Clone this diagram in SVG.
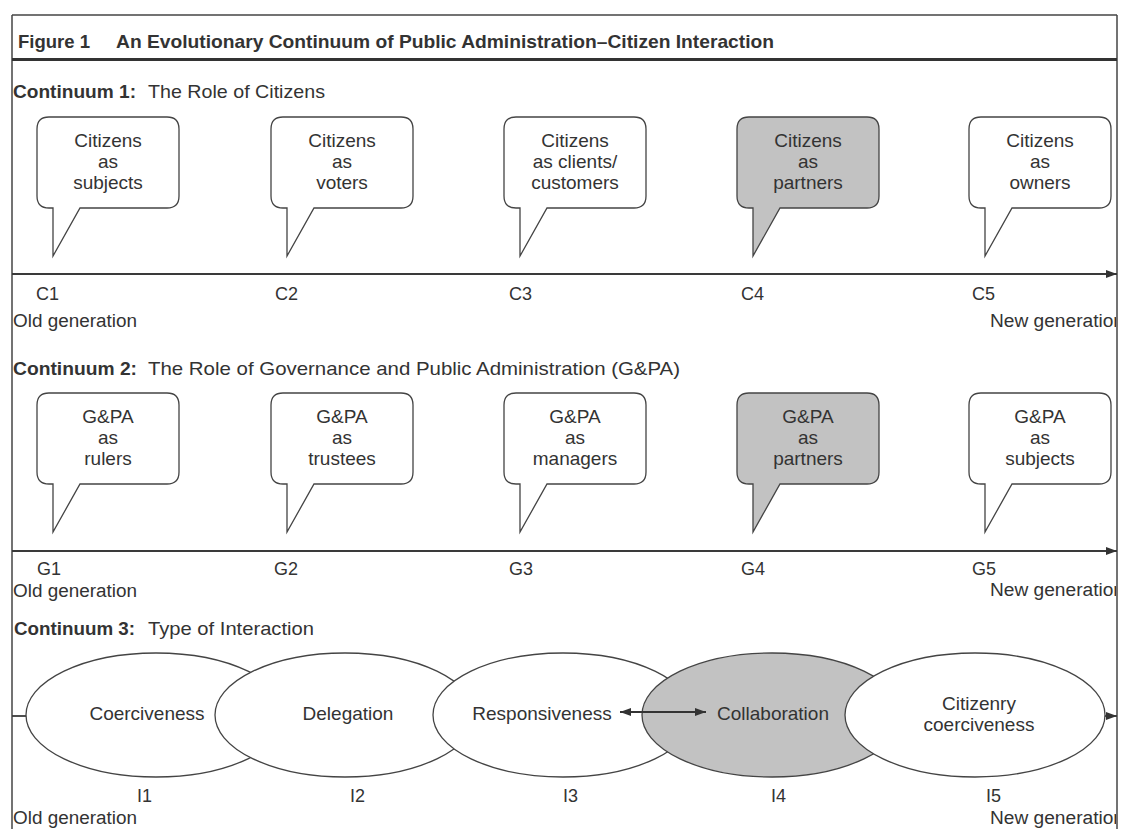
<svg xmlns="http://www.w3.org/2000/svg" width="1123" height="829" viewBox="0 0 1123 829">
<style>
text{font-family:"Liberation Sans",Arial,sans-serif;fill:#333}
.title{font-size:18.5px;font-weight:bold}
.cb{font-size:19px;font-weight:bold}
.cr{font-size:19px}
.bt{font-size:19px;text-anchor:middle}
.lbl{font-size:18px}
.gen{font-size:18px}
.frame{stroke:#444;stroke-width:1.5;fill:none}
.axis{stroke:#3a3a3a;stroke-width:1.8;fill:none}
.bub{fill:#fff;stroke:#444;stroke-width:1.3}
.bub.hl{fill:#c2c2c2}
.ell{fill:#fff;stroke:#444;stroke-width:1.3}
.ell.hl{fill:#c2c2c2}
</style>
<defs>
<path id="bubble" d="M12,0 H130 Q142,0 142,12 V79 Q142,91 130,91 H43 L16,139 V91 H12 Q0,91 0,79 V12 Q0,0 12,0 Z"/>
<marker id="ah" viewBox="0 0 11 8" refX="11" refY="4" markerWidth="11" markerHeight="8" markerUnits="userSpaceOnUse" orient="auto-start-reverse">
<path d="M0,0 L11,4 L0,8 Z" fill="#333"/>
</marker>
<clipPath id="clipR"><rect x="0" y="0" width="1116" height="829"/></clipPath>
</defs>
<rect width="1123" height="829" fill="#fff"/>

<g id="frame">
<line class="frame" x1="12" y1="15" x2="1117" y2="15"/>
<line class="frame" x1="12" y1="15" x2="12" y2="829"/>
<line class="frame" x1="1117" y1="15" x2="1117" y2="829"/>
<line x1="12" y1="59.5" x2="1117" y2="59.5" stroke="#333" stroke-width="3"/>
<text class="title" x="18" y="48">Figure 1</text>
<text class="title" x="116" y="48" textLength="658" lengthAdjust="spacingAndGlyphs">An Evolutionary Continuum of Public Administration–Citizen Interaction</text>
</g>

<g id="continuum1-label">
<text class="cb" x="13" y="98" textLength="123" lengthAdjust="spacingAndGlyphs">Continuum 1:</text>
<text class="cr" x="148" y="98" textLength="177" lengthAdjust="spacingAndGlyphs">The Role of Citizens</text>
</g>

<g id="c1"><use href="#bubble" class="bub" x="37" y="117"/><text class="bt" x="108" y="147">Citizens</text><text class="bt" x="108" y="168">as</text><text class="bt" x="108" y="189">subjects</text></g>
<g id="c2"><use href="#bubble" class="bub" x="271" y="117"/><text class="bt" x="342" y="147">Citizens</text><text class="bt" x="342" y="168">as</text><text class="bt" x="342" y="189">voters</text></g>
<g id="c3"><use href="#bubble" class="bub" x="504" y="117"/><text class="bt" x="575" y="147">Citizens</text><text class="bt" x="575" y="168">as clients/</text><text class="bt" x="575" y="189">customers</text></g>
<g id="c4"><use href="#bubble" class="bub hl" x="737" y="117"/><text class="bt" x="808" y="147">Citizens</text><text class="bt" x="808" y="168">as</text><text class="bt" x="808" y="189">partners</text></g>
<g id="c5"><use href="#bubble" class="bub" x="969" y="117"/><text class="bt" x="1040" y="147">Citizens</text><text class="bt" x="1040" y="168">as</text><text class="bt" x="1040" y="189">owners</text></g>

<g id="c-axis-labels">
<text class="lbl" x="36" y="300">C1</text>
<text class="lbl" x="275" y="300">C2</text>
<text class="lbl" x="509" y="300">C3</text>
<text class="lbl" x="741" y="300">C4</text>
<text class="lbl" x="972" y="300">C5</text>
<text class="gen" x="13" y="327" textLength="124" lengthAdjust="spacingAndGlyphs">Old generation</text>
<text class="gen" x="990" y="327" clip-path="url(#clipR)" textLength="134" lengthAdjust="spacingAndGlyphs">New generation</text>
</g>

<g id="continuum2-label">
<text class="cb" x="13" y="375" textLength="124" lengthAdjust="spacingAndGlyphs">Continuum 2:</text>
<text class="cr" x="148" y="375" textLength="532" lengthAdjust="spacingAndGlyphs">The Role of Governance and Public Administration (G&amp;PA)</text>
</g>

<g id="g1"><use href="#bubble" class="bub" x="37" y="393"/><text class="bt" x="108" y="423">G&amp;PA</text><text class="bt" x="108" y="444">as</text><text class="bt" x="108" y="465">rulers</text></g>
<g id="g2"><use href="#bubble" class="bub" x="271" y="393"/><text class="bt" x="342" y="423">G&amp;PA</text><text class="bt" x="342" y="444">as</text><text class="bt" x="342" y="465">trustees</text></g>
<g id="g3"><use href="#bubble" class="bub" x="504" y="393"/><text class="bt" x="575" y="423">G&amp;PA</text><text class="bt" x="575" y="444">as</text><text class="bt" x="575" y="465">managers</text></g>
<g id="g4"><use href="#bubble" class="bub hl" x="737" y="393"/><text class="bt" x="808" y="423">G&amp;PA</text><text class="bt" x="808" y="444">as</text><text class="bt" x="808" y="465">partners</text></g>
<g id="g5"><use href="#bubble" class="bub" x="969" y="393"/><text class="bt" x="1040" y="423">G&amp;PA</text><text class="bt" x="1040" y="444">as</text><text class="bt" x="1040" y="465">subjects</text></g>

<g id="g-axis-labels">
<text class="lbl" x="37" y="575">G1</text>
<text class="lbl" x="274" y="575">G2</text>
<text class="lbl" x="509" y="575">G3</text>
<text class="lbl" x="741" y="575">G4</text>
<text class="lbl" x="972" y="575">G5</text>
<text class="gen" x="13" y="597" textLength="124" lengthAdjust="spacingAndGlyphs">Old generation</text>
<text class="gen" x="990" y="596" clip-path="url(#clipR)" textLength="134" lengthAdjust="spacingAndGlyphs">New generation</text>
</g>

<g id="continuum3-label">
<text class="cb" x="14" y="635" textLength="121" lengthAdjust="spacingAndGlyphs">Continuum 3:</text>
<text class="cr" x="148" y="635" textLength="166" lengthAdjust="spacingAndGlyphs">Type of Interaction</text>
</g>

<g id="connectors">
<line class="axis" x1="12" y1="274" x2="1117" y2="274" marker-end="url(#ah)"/>
<line class="axis" x1="12" y1="551" x2="1117" y2="551" marker-end="url(#ah)"/>
<line class="axis" x1="12" y1="716" x2="27" y2="716"/>
<line class="axis" x1="1104" y1="716" x2="1117" y2="716" marker-end="url(#ah)"/>
</g>

<g id="i1"><ellipse class="ell" cx="156" cy="715" rx="130" ry="62"/><text class="bt" x="147" y="720">Coerciveness</text></g>
<g id="i2"><ellipse class="ell" cx="345" cy="715" rx="130" ry="62"/><text class="bt" x="348" y="720">Delegation</text></g>
<g id="i3"><ellipse class="ell" cx="563" cy="715" rx="130" ry="62"/><text class="bt" x="542" y="720">Responsiveness</text></g>
<g id="i4"><ellipse class="ell hl" cx="772" cy="715" rx="130" ry="62"/><text class="bt" x="773" y="720">Collaboration</text></g>
<g id="i5"><ellipse class="ell" cx="975" cy="715" rx="130" ry="62"/><text class="bt" x="979" y="710">Citizenry</text><text class="bt" x="979" y="731">coerciveness</text></g>

<g id="connector-interaction">
<line x1="620" y1="712" x2="706" y2="712" stroke="#333" stroke-width="1.8" marker-start="url(#ah)" marker-end="url(#ah)"/>
</g>

<g id="i-axis-labels">
<text class="lbl" x="137" y="802">I1</text>
<text class="lbl" x="350" y="802">I2</text>
<text class="lbl" x="563" y="802">I3</text>
<text class="lbl" x="771" y="802">I4</text>
<text class="lbl" x="986" y="802">I5</text>
<text class="gen" x="13" y="824" textLength="124" lengthAdjust="spacingAndGlyphs">Old generation</text>
<text class="gen" x="990" y="824" clip-path="url(#clipR)" textLength="134" lengthAdjust="spacingAndGlyphs">New generation</text>
</g>
</svg>
